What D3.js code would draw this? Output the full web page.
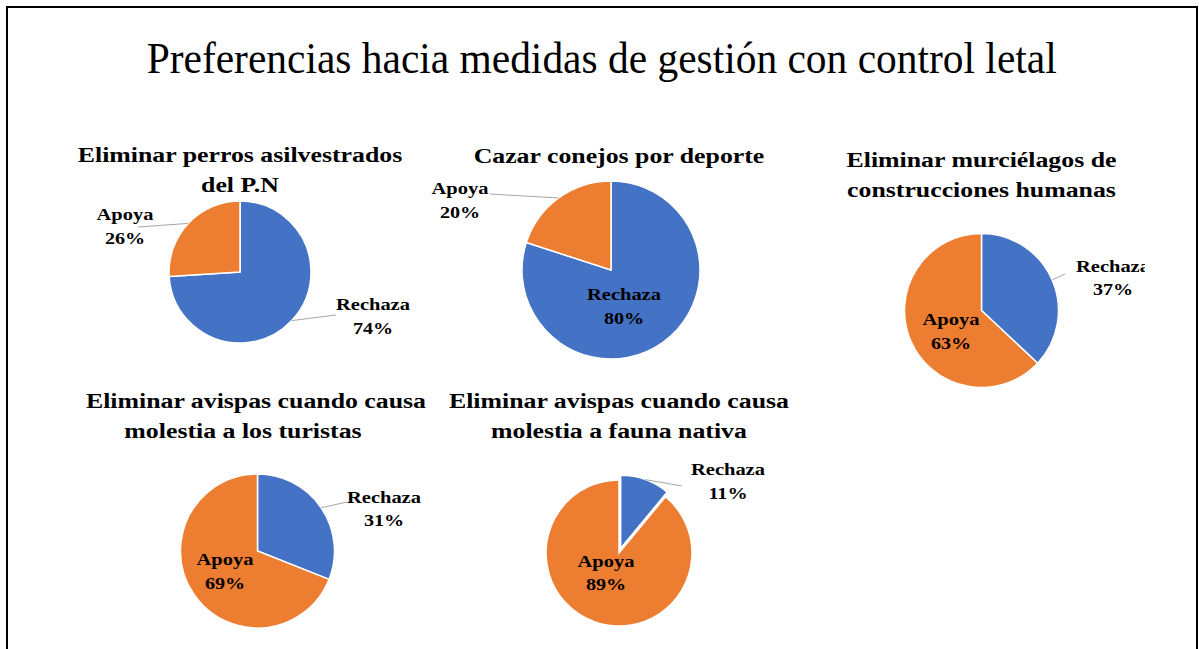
<!DOCTYPE html>
<html>

<head>
    <meta charset="UTF-8">
    <title>Preferencias hacia medidas de gestión con control letal</title>
    <script src="https://d3js.org/d3.v7.min.js"></script>
    <style>
        body {
            margin: 0;
            background-color: #fff;
        }
        text {
            font-family: "Liberation Serif", "Times New Roman", serif;
        }
    </style>
</head>

<body>
    <div id="chart"></div>
    <script>
        // data
        var categories = ['Rechaza', 'Apoya'];
        var chartTitles = [
            ['Eliminar perros asilvestrados', 'del P.N'],
            ['Cazar conejos por deporte'],
            ['Eliminar murciélagos de', 'construcciones humanas'],
            ['Eliminar avispas cuando causa', 'molestia a los turistas'],
            ['Eliminar avispas cuando causa', 'molestia a fauna nativa']
        ];
        var rechazaValues = [74, 80, 37, 31, 11];
        var apoyaValues = [26, 20, 63, 69, 89];

        (function(d3) {
            var width = 1199, height = 649;
            var colors = { Rechaza: '#4472C4', Apoya: '#ED7D31' };

            // layout of each small pie (positions only)
            var layout = [
                { cx: 240, cy: 272, r: 71, titleX: [240, 240], titleY: 162,
                  labels: { Rechaza: { x: 373, y: 310, end: [336, 315] }, Apoya: { x: 125, y: 220, end: [138, 227] } } },
                { cx: 611, cy: 270, r: 89, titleX: [619], titleY: 163,
                  labels: { Rechaza: { x: 624, y: 300 }, Apoya: { x: 460, y: 194, end: [490, 194] } } },
                { cx: 981.5, cy: 310.5, r: 77, titleX: [981.5, 981.5], titleY: 167, clip: 1145,
                  labels: { Rechaza: { x: 1113, y: 271.5, end: [1065, 274] }, Apoya: { x: 951, y: 325 } } },
                { cx: 257.5, cy: 551, r: 77, titleX: [256, 243], titleY: 408,
                  labels: { Rechaza: { x: 384, y: 502.5, end: [347, 502] }, Apoya: { x: 225, y: 565 } } },
                { cx: 619, cy: 553, r: 73, titleX: [619, 619], titleY: 408, explode: { Rechaza: 5 },
                  labels: { Rechaza: { x: 728, y: 475, end: [682, 486] }, Apoya: { x: 606, y: 566.5 } } }
            ];

            var svg = d3.select('#chart')
                .append('svg')
                    .attr('width', width)
                    .attr('height', height);

            var defs = svg.append('defs');

            // outer frame (open at the bottom)
            svg.append('path')
                .attr('d', 'M7,' + (height + 2) + 'V7H1197V' + (height + 2))
                .attr('fill', 'none')
                .attr('stroke', '#000')
                .attr('stroke-width', 2);

            // stretch a text element horizontally by factor
            function stretch(sel, factor) {
                sel.each(function() {
                    var w = this.getComputedTextLength();
                    d3.select(this)
                        .attr('textLength', w * factor)
                        .attr('lengthAdjust', 'spacingAndGlyphs');
                });
            }

            svg.append('text')
                .attr('x', 601.7)
                .attr('y', 72.7)
                .attr('text-anchor', 'middle')
                .style('font-size', '44px')
                .attr('fill', '#000')
                .text('Preferencias hacia medidas de gestión con control letal')
                .attr('textLength', 910)
                .attr('lengthAdjust', 'spacingAndGlyphs');

            var pie = d3.pie()
                .value(function(d) { return d.value; })
                .sort(null);

            chartTitles.forEach(function(lines, i) {
                var L = layout[i];
                var data = [
                    { label: categories[0], value: rechazaValues[i] },
                    { label: categories[1], value: apoyaValues[i] }
                ];

                var g = svg.append('g');
                if (L.clip) {
                    defs.append('clipPath').attr('id', 'clip' + i)
                        .append('rect')
                        .attr('x', 0).attr('y', 0)
                        .attr('width', L.clip).attr('height', height);
                    g.attr('clip-path', 'url(#clip' + i + ')');
                }

                // chart title
                var title = g.append('g');
                lines.forEach(function(line, k) {
                    title.append('text')
                        .attr('x', L.titleX[k])
                        .attr('y', L.titleY + k * 30)
                        .attr('text-anchor', 'middle')
                        .style('font-size', '20px')
                        .style('font-weight', 'bold')
                        .attr('fill', '#000')
                        .text(line)
                        .call(stretch, 1.29);
                });

                var arc = d3.arc().innerRadius(0).outerRadius(L.r);
                var explode = L.explode || {};

                function offset(d) {
                    var e = explode[d.data.label] || 0;
                    var a = (d.startAngle + d.endAngle) / 2;
                    return [Math.sin(a) * e, -Math.cos(a) * e];
                }

                var arcs = pie(data);
                var pg = g.append('g')
                    .attr('transform', 'translate(' + L.cx + ',' + L.cy + ')');

                pg.selectAll('path')
                    .data(arcs)
                    .enter()
                    .append('path')
                    .attr('d', arc)
                    .attr('transform', function(d) {
                        var o = offset(d);
                        return 'translate(' + o[0] + ',' + o[1] + ')';
                    })
                    .attr('fill', function(d) { return colors[d.data.label]; })
                    .attr('stroke', '#fff')
                    .attr('stroke-width', 1.5);

                // leader lines from the arc edge at mid angle
                arcs.forEach(function(d) {
                    var lab = L.labels[d.data.label];
                    if (!lab.end) return;
                    var a = (d.startAngle + d.endAngle) / 2;
                    var o = offset(d);
                    var sx = L.cx + o[0] + Math.sin(a) * L.r;
                    var sy = L.cy + o[1] - Math.cos(a) * L.r;
                    g.append('line')
                        .attr('x1', sx).attr('y1', sy)
                        .attr('x2', lab.end[0]).attr('y2', lab.end[1])
                        .attr('stroke', '#a6a6a6')
                        .attr('stroke-width', 1);
                });

                // data labels
                arcs.forEach(function(d) {
                    var lab = L.labels[d.data.label];
                    var t = g.append('text')
                        .attr('text-anchor', 'middle')
                        .style('font-size', '17.5px')
                        .style('font-weight', 'bold')
                        .attr('fill', '#000');
                    t.append('tspan')
                        .attr('x', lab.x).attr('y', lab.y)
                        .text(d.data.label)
                        .call(stretch, 1.17);
                    t.append('tspan')
                        .attr('x', lab.x).attr('y', lab.y + 23.5)
                        .text(d.data.value + '%')
                        .call(stretch, 1.15);
                });
            });

        })(window.d3);
    </script>
</body>

</html>
